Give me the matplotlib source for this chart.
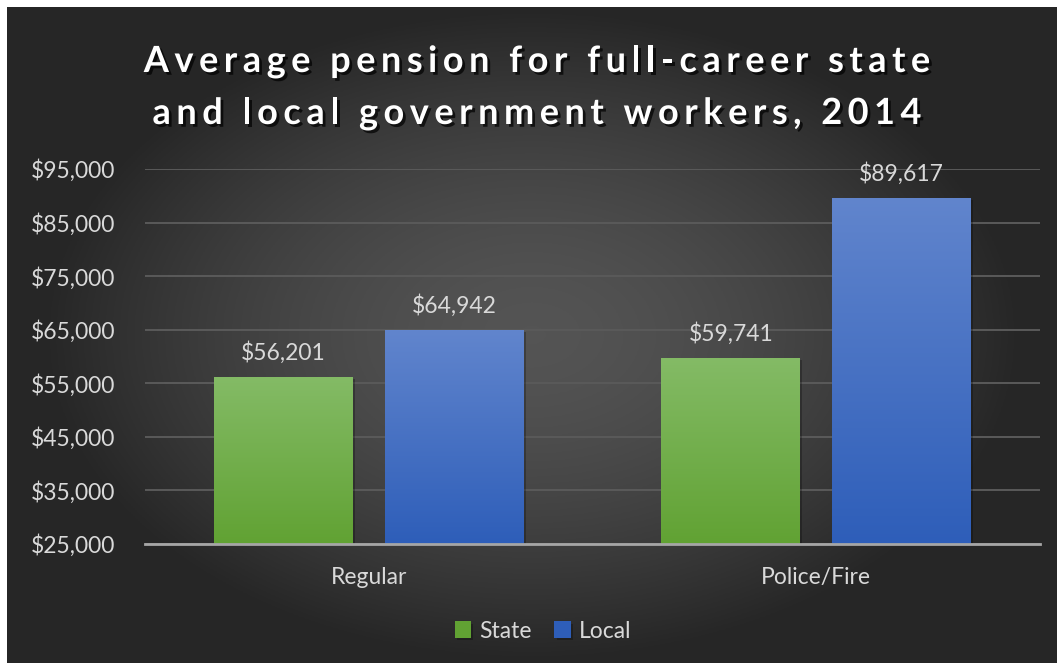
import numpy as np
import matplotlib.pyplot as plt
import matplotlib.patheffects as pe
from matplotlib.ticker import FuncFormatter

# 数据
categories = ['Regular', 'Police/Fire']
series_names = ['State', 'Local']
state_values = [56201, 59741]
local_values = [64942, 89617]
yticks = [25000, 35000, 45000, 55000, 65000, 75000, 85000, 95000]
title_lines = ['Average pension for full-career state', 'and local government workers, 2014']

plt.rcParams['font.family'] = ['Lato', 'DejaVu Sans']
txt = '#d9d9d9'
fs = 16.5

W, H = 1057, 663
fig = plt.figure(figsize=(W / 100, H / 100), dpi=100, facecolor='white')

# 背景：径向渐变（左上角留白边）
bg = fig.add_axes([7 / W, 0, 1 - 7 / W, 1 - 7 / H])
yy, xx = np.mgrid[0:1:300j, 0:1:450j]
r = np.sqrt(((xx - 0.5) / 0.75) ** 2 + ((yy - 0.5) / 0.8) ** 2)
r = np.clip(r / 0.62, 0, 1)
light, dark = 0.33, 0.15
img = light + (dark - light) * r ** 1.6
bg.imshow(np.dstack([img] * 3), extent=(0, 1, 0, 1), aspect='auto', origin='lower')
bg.axis('off')

# 主图
ax = fig.add_axes([145 / W, 1 - 544 / H, 895 / W, (544 - 169) / H])
ax.set_facecolor('none')
x = np.arange(len(categories))
w = 0.31
off = 0.191

grads = {
    'State': ('#84bb66', '#61a233'),
    'Local': ('#6185cd', '#2e5eb9'),
}

def grad_bars(xs, vals, name):
    top, bot = grads[name]
    bars = ax.bar(xs, np.array(vals) - 25000, w, bottom=25000, color=bot, label=name, zorder=3,
                  path_effects=[pe.SimplePatchShadow(offset=(1.5, -1.5), shadow_rgbFace='black', alpha=0.25), pe.Normal()])
    c1 = np.array(plt.matplotlib.colors.to_rgb(top))
    c2 = np.array(plt.matplotlib.colors.to_rgb(bot))
    t = np.linspace(0, 1, 200)[:, None]
    g = (c1 * (1 - t) + c2 * t)[:, None, :]
    for b in bars:
        x0, y0 = b.get_x(), b.get_y()
        im = ax.imshow(g, extent=(x0, x0 + b.get_width(), y0, y0 + b.get_height()),
                       aspect='auto', origin='upper', zorder=4)
        im.set_clip_path(b)
    for xi, v in zip(xs, vals):
        ax.text(xi, v + 2400, f'${v:,}', ha='center', va='bottom', color=txt, fontsize=fs, zorder=5)
    return bars

grad_bars(x - off, state_values, 'State')
grad_bars(x + off, local_values, 'Local')

ax.set_xlim(-0.5, 1.5)
ax.set_ylim(25000, 95000)
ax.set_yticks(yticks)
ax.yaxis.set_major_formatter(FuncFormatter(lambda v, p: f'${v:,.0f}'))
ax.set_xticks(x)
ax.set_xticklabels(categories)
ax.tick_params(axis='both', length=0, colors=txt, labelsize=fs)
ax.tick_params(axis='y', pad=21.5)
ax.tick_params(axis='x', pad=16.5)
ax.grid(axis='y', color='#5a5a5a', linewidth=1.4, zorder=0)
for s in ['top', 'right', 'left']:
    ax.spines[s].set_visible(False)
ax.spines['bottom'].set_color('#a6a6a6')
ax.spines['bottom'].set_linewidth(2)
ax.spines['bottom'].set_zorder(6)

# 标题（加字间距，逐字绘制）
title_kw = dict(color='white', fontsize=26, fontweight='bold',
                path_effects=[pe.withSimplePatchShadow(offset=(2, -2), shadow_rgbFace='black', alpha=0.7)])
renderer = fig.canvas.get_renderer()

def text_w(s):
    t = fig.text(0, 0, s + '|', **title_kw)
    wd = t.get_window_extent(renderer).width
    t.remove()
    return wd

def spaced_text(s, xc, ybase, spacing):
    bar_w = text_w('')
    prefix = [text_w(s[:i]) - bar_w for i in range(len(s) + 1)]
    total = prefix[-1] + spacing * (len(s) - 1)
    x0 = xc - total / 2
    for i, ch in enumerate(s):
        if ch == ' ':
            continue
        fig.text((x0 + prefix[i] + i * spacing) / W, 1 - ybase / H, ch,
                 ha='left', va='baseline', **title_kw)

spaced_text(title_lines[0], 537, 72, 5.5)
spaced_text(title_lines[1], 537, 124, 5.5)

# 图例
leg = fig.legend(loc='center', bbox_to_anchor=(543 / W, 1 - 631 / H), ncol=2, frameon=False,
                 fontsize=fs, labelcolor=txt, handlelength=0.7, handleheight=0.7,
                 handletextpad=0.35, columnspacing=1.0)

fig.savefig('out.png', dpi=100, facecolor='white')
